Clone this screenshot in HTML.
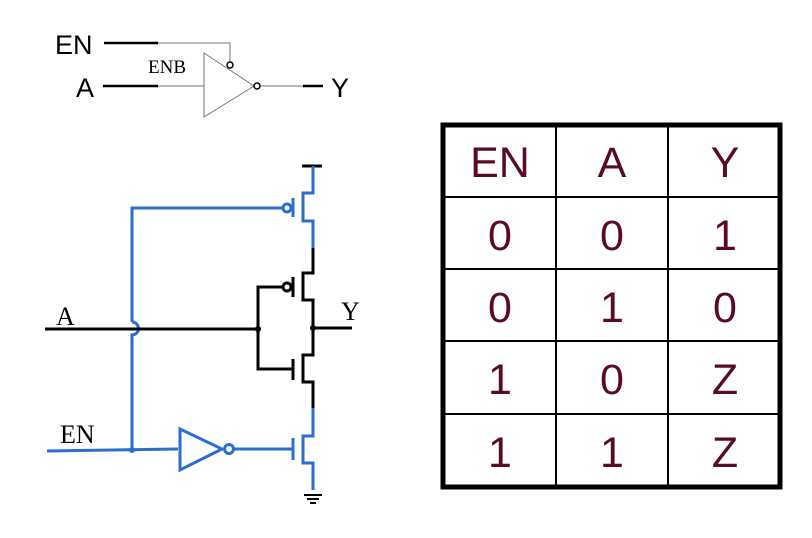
<!DOCTYPE html>
<html><head><style>body{margin:0;background:#fff}svg{display:block}</style></head>
<body>
<svg width="812" height="538" viewBox="0 0 812 538" xmlns="http://www.w3.org/2000/svg">
<g font-family="Liberation Sans, sans-serif" font-size="27" fill="#000">
<text x="55" y="54">EN</text>
<text x="76" y="97">A</text>
<text x="331" y="97">Y</text>
</g>
<text x="148" y="73" font-family="Liberation Serif, serif" font-size="19">ENB</text>
<g stroke="#000" stroke-width="2.5"><line x1="104" y1="43" x2="158" y2="43"/><line x1="103" y1="86" x2="158" y2="86"/><line x1="303" y1="86" x2="323" y2="86"/></g>
<g stroke="#777" stroke-width="1" fill="none">
<polyline points="158,43 230,43 230,62"/>
<line x1="158" y1="86" x2="204" y2="86"/>
<polygon points="204,53 204,117 254,86"/>
<line x1="261" y1="86" x2="303" y2="86"/>
</g>
<g stroke="#000" stroke-width="1.5" fill="#fff"><circle cx="230" cy="65" r="3"/><circle cx="257" cy="86" r="3"/></g>
<g fill="none" stroke-width="3" stroke-linejoin="miter">
<line x1="302" y1="166" x2="322" y2="166" stroke="#000"/>
<polyline stroke="#2a6fcf" points="313,166 313,193 303,193 303,221 313,221 313,248"/>
<polyline stroke="#000" points="313,248 313,273 303,273 303,300 313,300 313,355 303,355 303,382 313,382 313,408"/>
<polyline stroke="#2a6fcf" points="313,408 313,436 303,436 303,463 313,463 313,490"/>
<line x1="293" y1="198" x2="293" y2="217" stroke="#2a6fcf"/>
<line x1="293" y1="277" x2="293" y2="297" stroke="#000"/>
<line x1="293" y1="359" x2="293" y2="380" stroke="#000"/>
<line x1="293" y1="438" x2="293" y2="460" stroke="#2a6fcf"/>
<circle cx="287" cy="208" r="4" stroke="#2a6fcf"/>
<circle cx="287" cy="287" r="4" stroke="#000"/>
<polyline stroke="#2a6fcf" points="283,208 132,208 132,322"/>
<path stroke="#2a6fcf" d="M132,322 A6,6 0 0 1 132,335 L132,450"/>
<line x1="47" y1="451" x2="178" y2="449" stroke="#2a6fcf"/>
<polygon stroke="#2a6fcf" points="180,429 180,470 222,449"/>
<circle cx="229" cy="449" r="4.5" stroke="#2a6fcf"/>
<line x1="234" y1="449" x2="292" y2="449" stroke="#2a6fcf"/>
<line x1="45" y1="329" x2="258" y2="329" stroke="#000"/>
<polyline stroke="#000" points="283,287 258,287 258,369 292,369"/>
<line x1="313" y1="328" x2="352" y2="328" stroke="#000"/>
</g>
<circle cx="258" cy="329" r="3" fill="#000"/>
<circle cx="313" cy="328" r="3" fill="#000"/>
<circle cx="132" cy="450" r="3" fill="#2a6fcf"/>
<g stroke="#000" stroke-width="2"><line x1="304" y1="495" x2="322" y2="495"/><line x1="307" y1="499" x2="319" y2="499"/><line x1="310" y1="503" x2="316" y2="503"/></g>
<g font-family="Liberation Serif, serif" font-size="26" fill="#000">
<text x="56" y="325">A</text><text x="341" y="320">Y</text><text x="60" y="443">EN</text>
</g>
<g stroke="#000" fill="none">
<rect x="443" y="125" width="337" height="362" stroke-width="5"/>
<g stroke-width="2">
<line x1="556" y1="125" x2="556" y2="487"/><line x1="668" y1="125" x2="668" y2="487"/>
<line x1="443" y1="197" x2="780" y2="197"/><line x1="443" y1="269" x2="780" y2="269"/>
<line x1="443" y1="341" x2="780" y2="341"/><line x1="443" y1="414" x2="780" y2="414"/>
</g></g>
<g font-family="Liberation Sans, sans-serif" font-size="43" fill="#5a0a26" text-anchor="middle">
<text x="500" y="177">EN</text><text x="612" y="177">A</text><text x="725" y="177">Y</text>
<text x="500" y="250">0</text><text x="612" y="250">0</text><text x="725" y="250">1</text>
<text x="500" y="322">0</text><text x="612" y="322">1</text><text x="725" y="322">0</text>
<text x="500" y="394">1</text><text x="612" y="394">0</text><text x="725" y="394">Z</text>
<text x="500" y="467">1</text><text x="612" y="467">1</text><text x="725" y="467">Z</text>
</g>
</svg>
</body></html>
